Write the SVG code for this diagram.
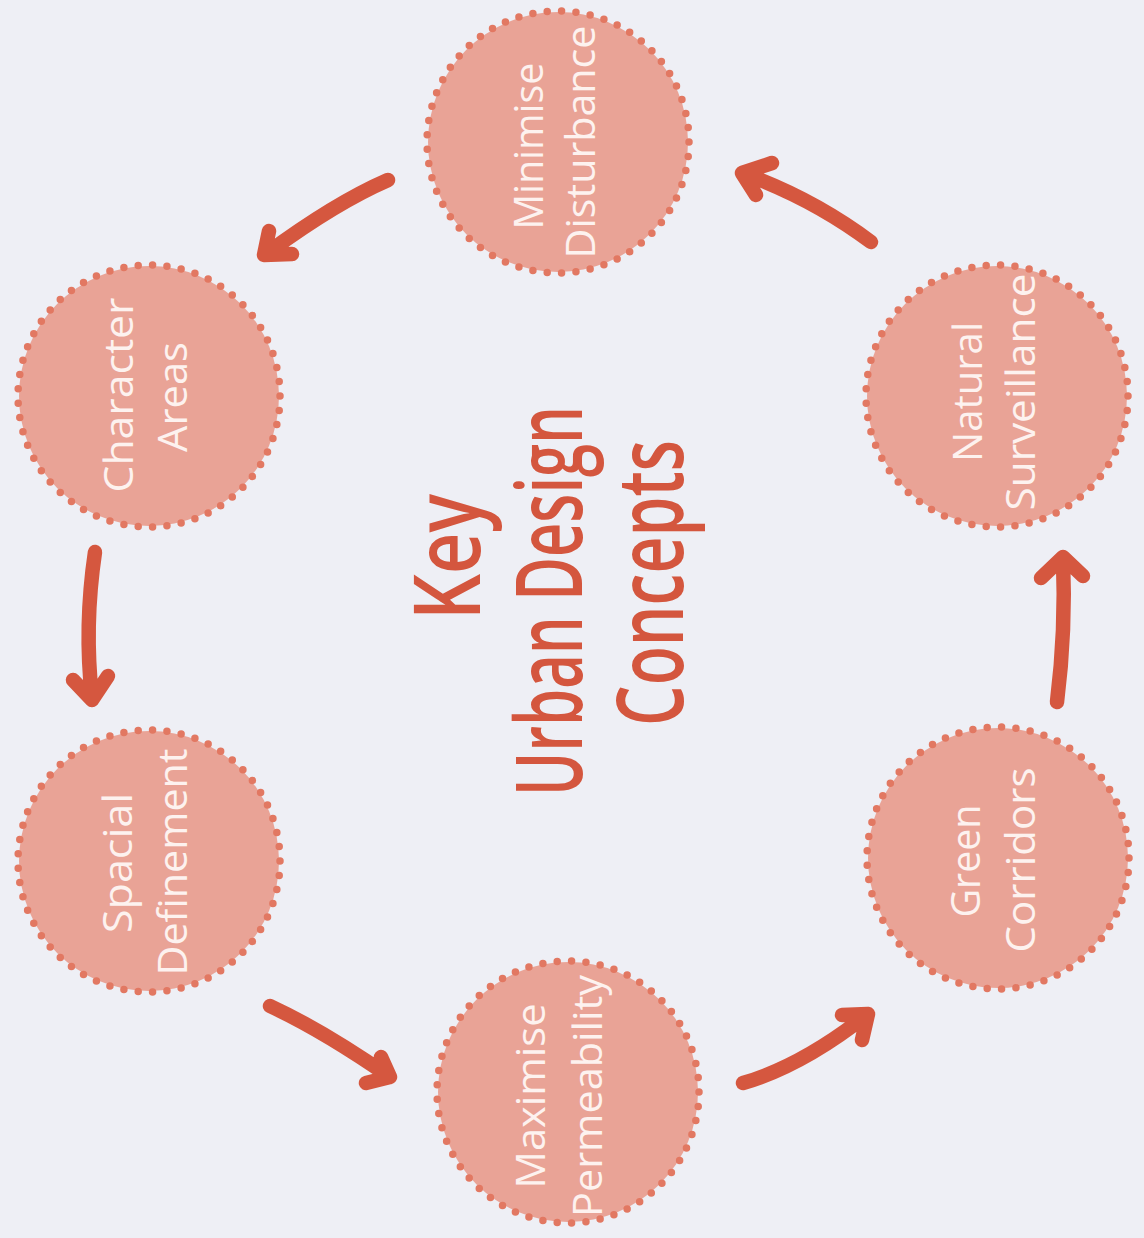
<svg xmlns="http://www.w3.org/2000/svg" width="1144" height="1238" viewBox="0 0 1144 1238">
<style>
.bg{fill:#EEEFF5}
.disc{fill:#E9A396}
.ring{fill:none;stroke:#E27862;stroke-width:7.5;stroke-linecap:round;stroke-dasharray:0 1}
.lbl{font-family:"Open Sans","DejaVu Sans",sans-serif;font-size:40px;fill:#FDF2EF;text-anchor:middle}
.title{font-family:"Open Sans","DejaVu Sans",sans-serif;font-size:92px;font-weight:600;fill:#D4563E;text-anchor:middle}
.arr{fill:none;stroke:#D5573F;stroke-width:14.5;stroke-linecap:round;stroke-linejoin:round}
</style>
<rect class="bg" x="0" y="0" width="1144" height="1238"/>
<g id="title">
<text class="title" transform="translate(480,557) rotate(-90)" textLength="126" lengthAdjust="spacingAndGlyphs">Key</text>
<text class="title" transform="translate(582,601) rotate(-90)" textLength="390" lengthAdjust="spacingAndGlyphs">Urban Design</text>
<text class="title" transform="translate(683,583) rotate(-90)" textLength="286" lengthAdjust="spacingAndGlyphs">Concepts</text>
</g>
<g id="node-minimise">
<circle class="disc" cx="558" cy="142" r="130"/>
<circle class="ring" cx="558" cy="142" r="131" pathLength="57"/>
<text class="lbl" transform="translate(543,146) rotate(-90)" textLength="167" lengthAdjust="spacingAndGlyphs">Minimise</text>
<text class="lbl" transform="translate(595,142) rotate(-90)" textLength="233" lengthAdjust="spacingAndGlyphs">Disturbance</text>
</g>
<g id="node-character">
<circle class="disc" cx="149" cy="396" r="130"/>
<circle class="ring" cx="149" cy="396" r="131" pathLength="57"/>
<text class="lbl" transform="translate(133,395) rotate(-90)" textLength="195" lengthAdjust="spacingAndGlyphs">Character</text>
<text class="lbl" transform="translate(187,397) rotate(-90)" textLength="110" lengthAdjust="spacingAndGlyphs">Areas</text>
</g>
<g id="node-spacial">
<circle class="disc" cx="149" cy="861" r="130"/>
<circle class="ring" cx="149" cy="861" r="131" pathLength="57"/>
<text class="lbl" transform="translate(132,863) rotate(-90)" textLength="140" lengthAdjust="spacingAndGlyphs">Spacial</text>
<text class="lbl" transform="translate(187,862) rotate(-90)" textLength="227" lengthAdjust="spacingAndGlyphs">Definement</text>
</g>
<g id="node-maximise">
<circle class="disc" cx="568" cy="1092" r="130"/>
<circle class="ring" cx="568" cy="1092" r="131" pathLength="57"/>
<text class="lbl" transform="translate(545,1096) rotate(-90)" textLength="185" lengthAdjust="spacingAndGlyphs">Maximise</text>
<text class="lbl" transform="translate(602,1096) rotate(-90)" textLength="242" lengthAdjust="spacingAndGlyphs">Permeability</text>
</g>
<g id="node-green">
<circle class="disc" cx="998" cy="858" r="130"/>
<circle class="ring" cx="998" cy="858" r="131" pathLength="57"/>
<text class="lbl" transform="translate(980,861) rotate(-90)" textLength="113" lengthAdjust="spacingAndGlyphs">Green</text>
<text class="lbl" transform="translate(1035,860) rotate(-90)" textLength="185" lengthAdjust="spacingAndGlyphs">Corridors</text>
</g>
<g id="node-natural">
<circle class="disc" cx="997" cy="396" r="130"/>
<circle class="ring" cx="997" cy="396" r="131" pathLength="57"/>
<text class="lbl" transform="translate(982,392) rotate(-90)" textLength="140" lengthAdjust="spacingAndGlyphs">Natural</text>
<text class="lbl" transform="translate(1035,392) rotate(-90)" textLength="237" lengthAdjust="spacingAndGlyphs">Surveillance</text>
</g>
<g id="connectors">
<path class="arr" d="M388,180 Q335,203 266,254 M269,231 L264,255 L292,254"/>
<path class="arr" d="M95,552 Q84,626 92,698 M73,680 L92,700 L108,676"/>
<path class="arr" d="M270,1006 Q322,1030 390,1077 M381,1057 L390,1077 L366,1083"/>
<path class="arr" d="M743,1083 Q802,1066 868,1014 M842,1015 L868,1014 L862,1040"/>
<path class="arr" d="M1057,702 Q1066,630 1063,558 M1041,578 L1063,557 L1083,576"/>
<path class="arr" d="M871,242 Q812,198 742,173 M772,163 L742,173 L756,195"/>
</g>
</svg>
